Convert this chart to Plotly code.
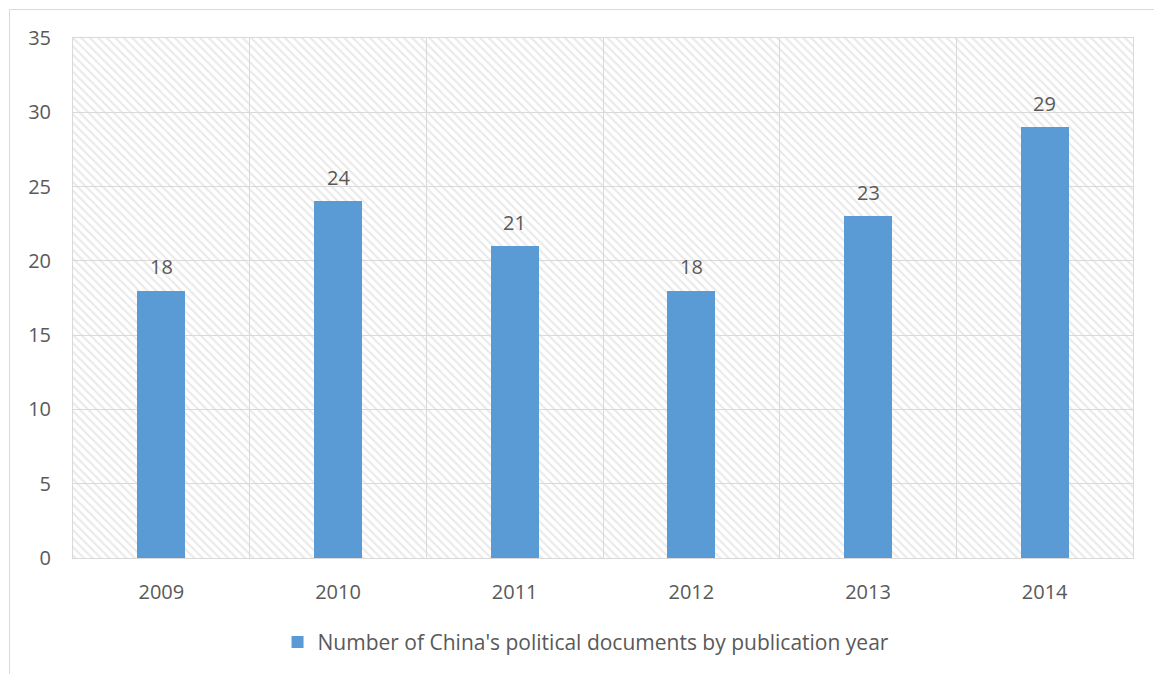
import plotly.graph_objects as go

# Publication counts per year
years = ["2009", "2010", "2011", "2012", "2013", "2014"]
counts = [18, 24, 21, 18, 23, 29]
series_name = "Number of China's political documents by publication year"

# Value axis ticks
y_ticks = [0, 5, 10, 15, 20, 25, 30, 35]

BAR_COLOR = "#5B9BD5"
GRID_COLOR = "#D9D9D9"
TEXT_COLOR = "#595959"
FONT = "Open Sans"

W, H = 1154, 674
ML, MR, MT, MB = 73, 21, 38, 115
PW = W - ML - MR
PH = H - MT - MB

fig = go.Figure()

# Hatched plot background on its own (hidden) subplot, drawn first
fig.add_trace(go.Bar(
    x=[0.5], y=[max(y_ticks)], width=[1.0],
    xaxis="x", yaxis="y",
    marker=dict(color="white", line=dict(width=0),
                pattern=dict(shape="\\", fgcolor="#D3D3D3", bgcolor="white",
                             size=6, solidity=0.35)),
    showlegend=False, hoverinfo="skip",
))

# Data bars on the visible subplot (its gridlines sit above the hatch)
fig.add_trace(go.Bar(
    x=years, y=counts, name=series_name,
    xaxis="x2", yaxis="y2",
    marker=dict(color=BAR_COLOR, line=dict(width=0)),
    width=0.27,
))

# Value labels above bars (category axis positions by index)
for i, c in enumerate(counts):
    fig.add_annotation(
        x=i, y=c, xref="x2", yref="y2", text=str(c), showarrow=False,
        yanchor="middle", yshift=24,
        font=dict(family=FONT, size=20, color=TEXT_COLOR),
    )

# Outer chart frame
fig.add_shape(
    type="rect", xref="paper", yref="paper",
    x0=(9.5 - ML) / PW, x1=(W + 20 - ML) / PW,
    y0=(PH + MT - (H + 20)) / PH, y1=(PH + MT - 9.5) / PH,
    line=dict(color=GRID_COLOR, width=1), fillcolor="rgba(0,0,0,0)",
    layer="below",
)

fig.update_layout(
    width=W, height=H,
    margin=dict(l=ML, r=MR, t=MT, b=MB),
    paper_bgcolor="white", plot_bgcolor="rgba(0,0,0,0)",
    font=dict(family=FONT, size=20, color=TEXT_COLOR),
    bargap=0, showlegend=True,
    legend=dict(orientation="h", x=0.484, xanchor="center",
                y=-0.16, yanchor="middle",
                font=dict(family=FONT, size=21, color=TEXT_COLOR),
                bgcolor="rgba(0,0,0,0)"),
    xaxis=dict(domain=[0, 1], anchor="y", type="linear", range=[0, 1],
               visible=False, fixedrange=True),
    yaxis=dict(domain=[0, 1], anchor="x", type="linear", range=[0, max(y_ticks)],
               visible=False, fixedrange=True),
    xaxis2=dict(domain=[0, 1], anchor="y2", type="category",
                categoryorder="array", categoryarray=years,
                range=[-0.5, len(years) - 0.5],
                tickson="boundaries", showgrid=True, gridcolor=GRID_COLOR, gridwidth=1,
                showline=True, linecolor=GRID_COLOR, linewidth=1, mirror=True,
                ticks="", ticklabelstandoff=16, tickangle=0,
                tickfont=dict(family=FONT, size=20, color=TEXT_COLOR)),
    yaxis2=dict(domain=[0, 1], anchor="x2", type="linear", range=[0, max(y_ticks)],
                tickvals=y_ticks, showgrid=True, gridcolor=GRID_COLOR, gridwidth=1,
                showline=True, linecolor=GRID_COLOR, linewidth=1, mirror=True,
                zeroline=False, ticks="", ticklabelstandoff=17,
                tickfont=dict(family=FONT, size=20, color=TEXT_COLOR)),
)

fig.write_html("out.html")
